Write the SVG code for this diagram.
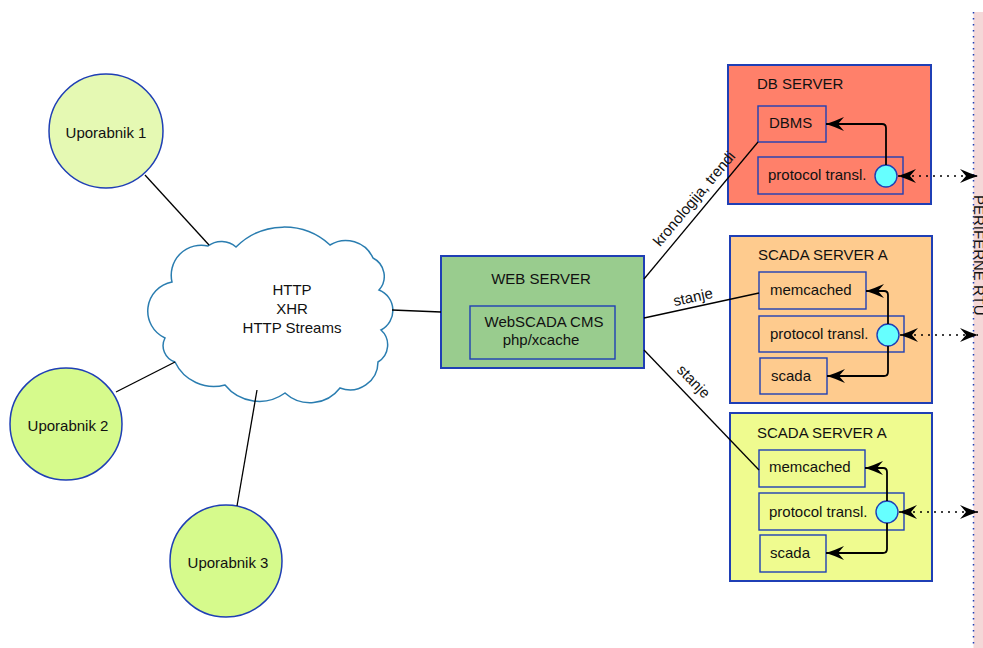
<svg xmlns="http://www.w3.org/2000/svg" width="983" height="648" viewBox="0 0 983 648">
<defs>
<marker id="ah" viewBox="-20 -10 22 20" refX="0" refY="0" markerWidth="22" markerHeight="20" markerUnits="userSpaceOnUse" orient="auto-start-reverse">
<path d="M0,0 Q-8,-2.5 -18,-7 L-12,0 L-18,7 Q-8,2.5 0,0 Z" fill="#000"/>
</marker>
<style>
text{font-family:"Liberation Sans",Arial,sans-serif;font-size:15px;fill:#111}
.outer{stroke:#1f3fb5;stroke-width:2}
.inner{fill:none;stroke:#1f3fb5;stroke-width:1.4}
.user{stroke:#1f3fb5;stroke-width:1.5}
.port{fill:#66ffff;stroke:#1f3fb5;stroke-width:1.4}
.link{fill:none;stroke:#000;stroke-width:1.3}
.flow{fill:none;stroke:#000;stroke-width:1.8;marker-end:url(#ah)}
.io{fill:none;stroke:#000;stroke-width:1.6;stroke-dasharray:2 5;marker-start:url(#ah);marker-end:url(#ah)}
.mid{text-anchor:middle}
</style>
</defs>
<rect width="983" height="648" fill="#fff"/>

<g id="rtu">
<rect x="973.5" y="12" width="20" height="640" fill="#f4d8d8"/>
<line x1="973.5" y1="12" x2="973.5" y2="648" stroke="#1f3fb5" stroke-width="1.5" stroke-dasharray="1.5 4.5"/>
<text transform="translate(974,195) rotate(90)">PERIFERNE RTU</text>
</g>

<g id="user1">
<circle class="user" cx="106" cy="131" r="57" fill="#e5f9b3"/>
<text class="mid" x="106" y="138">Uporabnik 1</text>
</g>
<g id="user2">
<circle class="user" cx="66" cy="424" r="56" fill="#d6fa8c"/>
<text class="mid" x="68" y="431">Uporabnik 2</text>
</g>
<g id="user3">
<circle class="user" cx="226" cy="561" r="56" fill="#d6fa8c"/>
<text class="mid" x="228" y="568">Uporabnik 3</text>
</g>

<g id="cloud">
<path d="M208,246 A22,22 0 0 1 236,247 A68,68 0 0 1 330,245 A30,30 0 0 1 373,258 A20.5,20.5 0 0 1 379,290 A22,22 0 0 1 381,330 A20,20 0 0 1 378,362 A28,28 0 0 1 340,388 A37.5,37.5 0 0 1 285,393 A44,44 0 0 1 225,385 A43,43 0 0 1 175,362 A17,17 0 0 1 165,338 A29.6,29.6 0 0 1 172,282 A30,30 0 0 1 208,246 Z" fill="#fff" stroke="#2a7db0" stroke-width="1.5"/>
<text class="mid" x="292" y="295">HTTP</text>
<text class="mid" x="292" y="314">XHR</text>
<text class="mid" x="292" y="333">HTTP Streams</text>
</g>

<g id="web">
<rect class="outer" x="441" y="256" width="203" height="112" fill="#99cc8e"/>
<text class="mid" x="541" y="284">WEB SERVER</text>
<rect class="inner" x="470" y="306" width="145" height="53"/>
<text class="mid" x="544" y="327">WebSCADA CMS</text>
<text class="mid" x="541" y="345">php/xcache</text>
</g>

<g id="db">
<rect class="outer" x="728" y="65" width="203" height="139" fill="#ff806a"/>
<text x="757" y="89">DB SERVER</text>
<rect class="inner" x="758" y="106" width="68" height="36"/>
<text x="769" y="128">DBMS</text>
<rect class="inner" x="758" y="157" width="145" height="37"/>
<text x="768" y="180">protocol transl.</text>
<circle class="port" cx="886" cy="176" r="11"/>
</g>

<g id="scadaA1">
<rect class="outer" x="730" y="236" width="202" height="167" fill="#fecb8e"/>
<text x="758" y="260">SCADA SERVER A</text>
<rect class="inner" x="759" y="272" width="107" height="37"/>
<text x="770" y="295">memcached</text>
<rect class="inner" x="759" y="316" width="145" height="36"/>
<text x="770" y="339">protocol transl.</text>
<rect class="inner" x="760" y="358" width="67" height="36"/>
<text x="771" y="381">scada</text>
<circle class="port" cx="888" cy="335" r="11"/>
</g>

<g id="scadaA2">
<rect class="outer" x="730" y="413" width="202" height="168" fill="#effb8f"/>
<text x="757" y="438">SCADA SERVER A</text>
<rect class="inner" x="759" y="450" width="106" height="37"/>
<text x="769" y="472">memcached</text>
<rect class="inner" x="759" y="493" width="145" height="37"/>
<text x="769" y="517">protocol transl.</text>
<rect class="inner" x="760" y="535" width="66" height="37"/>
<text x="770" y="558">scada</text>
<circle class="port" cx="887" cy="512" r="11"/>
</g>

<g id="connectors">
<line class="link" x1="145" y1="175" x2="209" y2="245"/>
<line class="link" x1="116" y1="392" x2="175" y2="362"/>
<line class="link" x1="237" y1="506" x2="257" y2="390"/>
<line class="link" x1="392" y1="310" x2="441" y2="312"/>
<line class="link" x1="644" y1="279" x2="758" y2="142"/>
<line class="link" x1="644" y1="318" x2="759" y2="293"/>
<line class="link" x1="644" y1="350" x2="759" y2="470"/>
<text class="mid" transform="translate(698,202) rotate(-50)">kronologija, trendi</text>
<text class="mid" transform="translate(694,302) rotate(-12.3)">stanje</text>
<text class="mid" transform="translate(690,385) rotate(45.7)">stanje</text>
<path class="flow" d="M886,165 V128 Q886,124 882,124 H826"/>
<path class="flow" d="M888,324 V295 Q888,291 884,291 H866"/>
<path class="flow" d="M888,346 V372 Q888,376 884,376 H827"/>
<path class="flow" d="M887,501 V472 Q887,468 883,468 H865"/>
<path class="flow" d="M887,523 V549 Q887,553 883,553 H826"/>
<path class="io" d="M898,176 H978"/>
<path class="io" d="M900,335 H978"/>
<path class="io" d="M899,512 H978"/>
</g>
</svg>
